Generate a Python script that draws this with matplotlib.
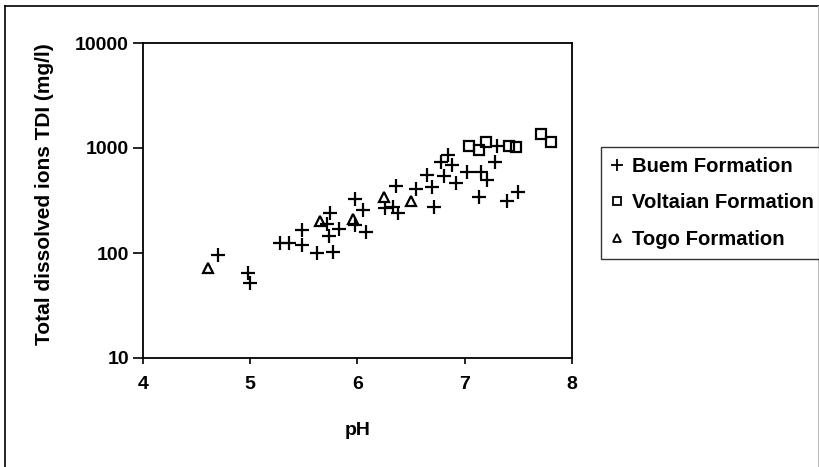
import matplotlib.pyplot as plt
from matplotlib.lines import Line2D

# Buem Formation (+)
buem_ph = [4.70, 4.98, 5.00, 5.28, 5.36, 5.48, 5.48, 5.62, 5.77, 5.73, 5.74, 5.72,
           5.83, 5.98, 5.98, 6.05, 6.08, 6.26, 6.33, 6.38, 6.36, 6.55, 6.65, 6.69,
           6.71, 6.81, 6.84, 6.88, 6.92, 6.78, 7.02, 7.15, 7.21, 7.13, 7.28, 7.30,
           7.39, 7.50]
buem_tdi = [96, 64, 52, 125, 125, 120, 166, 100, 102, 145, 241, 190,
            170, 325, 183, 257, 160, 267, 275, 240, 434, 408, 550, 425,
            275, 537, 855, 690, 460, 740, 590, 590, 500, 345, 740, 1050,
            316, 380]

# Voltaian Formation (square)
volt_ph = [7.04, 7.13, 7.20, 7.41, 7.48, 7.71, 7.80]
volt_tdi = [1050, 960, 1150, 1050, 1020, 1350, 1150]

# Togo Formation (triangle)
togo_ph = [4.61, 5.65, 5.96, 6.25, 6.50]
togo_tdi = [72, 200, 210, 345, 310]

plt.rcParams['font.family'] = ['Liberation Sans', 'DejaVu Sans']
plt.rcParams['font.weight'] = 'bold'

fig = plt.figure(figsize=(8.2, 4.67), dpi=100)
ax = fig.add_axes([143 / 820, 1 - 358 / 467, 429 / 820, 315 / 467])

ax.plot(buem_ph, buem_tdi, linestyle='none', marker='+', color='black',
        markersize=10, markeredgewidth=1.6, zorder=3)
ax.plot(volt_ph, volt_tdi, linestyle='none', marker='s', markerfacecolor='none',
        markeredgecolor='black', markersize=7, markeredgewidth=1.6, zorder=3)
ax.plot(togo_ph, togo_tdi, linestyle='none', marker='^', markerfacecolor='none',
        markeredgecolor='black', markersize=7.5, markeredgewidth=1.6, zorder=3)

ax.set_yscale('log')
ax.set_xlim(4, 8)
ax.set_ylim(10, 10000)
ax.set_xticks([4, 5, 6, 7, 8])
ax.set_yticks([10, 100, 1000, 10000])
ax.set_yticklabels(['10', '100', '1000', '10000'])
ax.minorticks_off()
ax.tick_params(axis='both', labelsize=14, direction='out', width=1.2)
ax.tick_params(axis='y', length=7, pad=3)
ax.tick_params(axis='x', length=4, pad=9)
for s in ax.spines.values():
    s.set_linewidth(1.3)

ax.set_xlabel('pH', fontsize=14, fontweight='bold', labelpad=21)
ax.set_ylabel('Total dissolved ions TDI (mg/l)', fontsize=15, fontweight='bold')
ax.yaxis.set_label_coords(-89 / 429, 0.52)

# legend
handles = [
    Line2D([], [], linestyle='none', marker='+', color='black', markersize=8, markeredgewidth=1.3),
    Line2D([], [], linestyle='none', marker='s', markerfacecolor='none', markeredgecolor='black',
           markersize=5.5, markeredgewidth=1.3),
    Line2D([], [], linestyle='none', marker='^', markerfacecolor='none', markeredgecolor='black',
           markersize=5.5, markeredgewidth=1.3),
]
leg = fig.legend(handles, ['Buem Formation', 'Voltaian Formation', 'Togo Formation'],
                 loc='upper left', bbox_to_anchor=(601 / 820, 1 - 147 / 467),
                 fontsize=14.6, frameon=True, fancybox=False, edgecolor='black',
                 handlelength=0.6, handletextpad=0.45, borderpad=0.5, labelspacing=0.85,
                 borderaxespad=0)
leg.get_frame().set_linewidth(1.0)

# chart area frame
fig.add_artist(Line2D([5 / 820, 5 / 820], [0, 1 - 6 / 467], color='black', lw=1.2))
fig.add_artist(Line2D([5 / 820, 1], [1 - 6 / 467, 1 - 6 / 467], color='black', lw=1.2))
fig.add_artist(Line2D([818 / 820, 818 / 820], [0, 1 - 6 / 467], color='#bbbbbb', lw=0.8))

fig.savefig('out.png', dpi=100)
